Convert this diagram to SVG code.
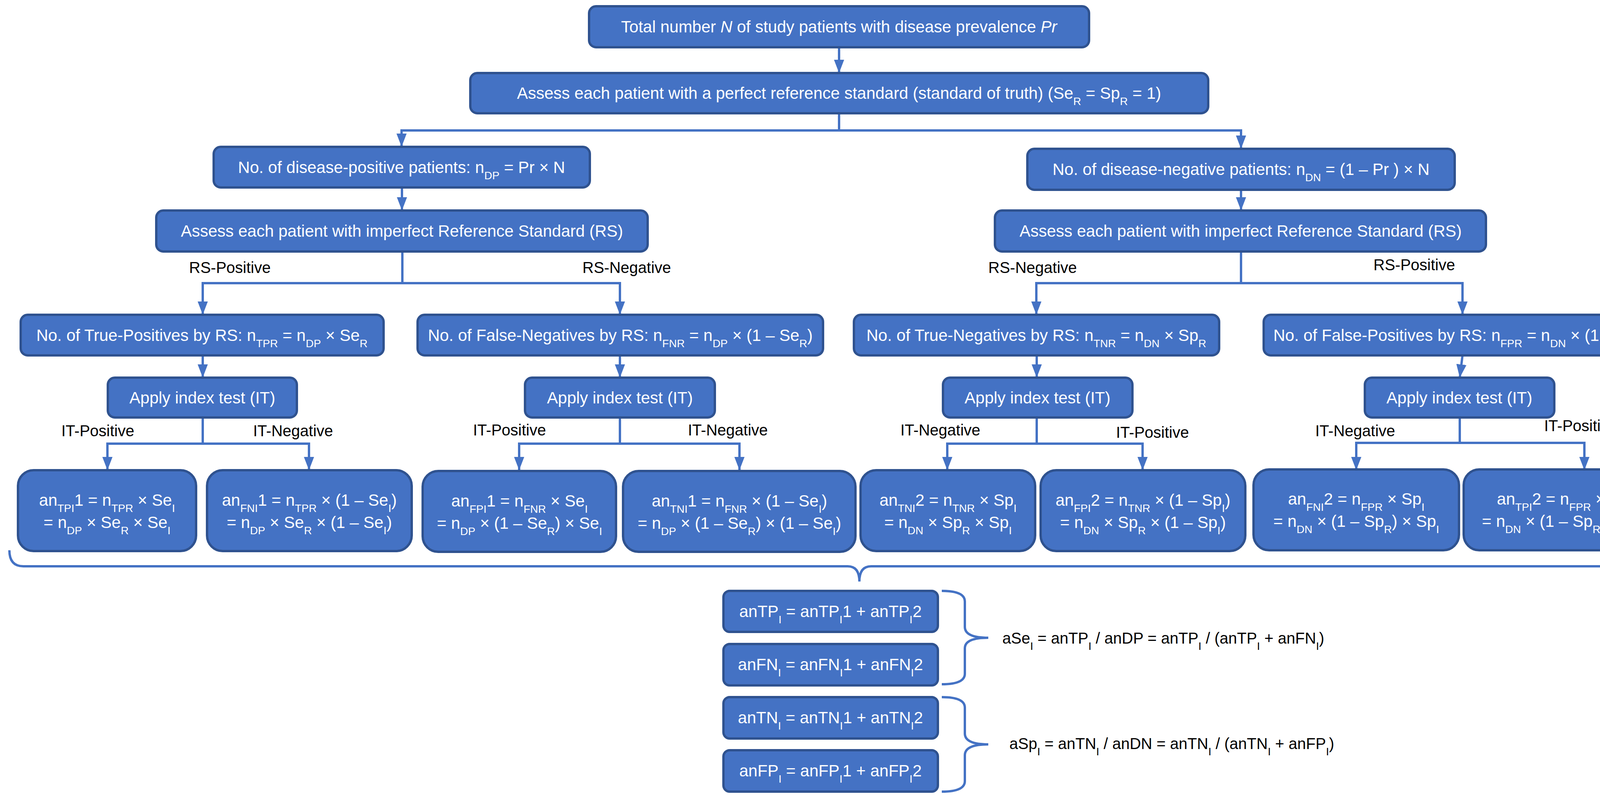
<svg xmlns="http://www.w3.org/2000/svg" width="4405" height="2051" viewBox="0 0 4405 2051">
<style>
.b{fill:#4472C4;stroke:#2F528F;stroke-width:6}
.t{font-family:"Liberation Sans",Arial,sans-serif;font-size:42px;fill:#fff;text-anchor:middle}
.k{font-family:"Liberation Sans",Arial,sans-serif;font-size:40px;fill:#000}
.c{fill:none;stroke:#4472C4;stroke-width:6}
.s{font-size:28px}
</style>
<defs>
<marker id="m" markerUnits="userSpaceOnUse" markerWidth="34" markerHeight="26" refX="34" refY="13" orient="auto" viewBox="0 0 34 26"><path d="M0 0L34 13L0 26Z" fill="#4472C4"/></marker>
</defs>
<g id="connectors">
<path class="c" marker-end="url(#m)" d="M2148 121V187"/>
<path class="c" marker-end="url(#m)" d="M2148 290V334H1028V376"/>
<path class="c" marker-end="url(#m)" d="M2148 334H3177V381"/>
<path class="c" marker-end="url(#m)" d="M1029 480V539"/>
<path class="c" marker-end="url(#m)" d="M3177 486V539"/>
<path class="c" marker-end="url(#m)" d="M1030 644V725H519V806"/>
<path class="c" marker-end="url(#m)" d="M1030 725H1587V806"/>
<path class="c" marker-end="url(#m)" d="M3177 644V725H2653V806"/>
<path class="c" marker-end="url(#m)" d="M3177 725H3744V806"/>
<path class="c" marker-end="url(#m)" d="M519 910V967"/>
<path class="c" marker-end="url(#m)" d="M1587 910V967"/>
<path class="c" marker-end="url(#m)" d="M2654 910V967"/>
<path class="c" marker-end="url(#m)" d="M3744 910L3737 967"/>
<path class="c" marker-end="url(#m)" d="M519 1069V1136H275V1204"/>
<path class="c" marker-end="url(#m)" d="M519 1136H791V1204"/>
<path class="c" marker-end="url(#m)" d="M1587 1069V1136H1329V1204"/>
<path class="c" marker-end="url(#m)" d="M1587 1136H1893V1204"/>
<path class="c" marker-end="url(#m)" d="M2654 1069V1136H2425V1204"/>
<path class="c" marker-end="url(#m)" d="M2654 1136H2925V1204"/>
<path class="c" marker-end="url(#m)" d="M3737 1069V1134H3472V1204"/>
<path class="c" marker-end="url(#m)" d="M3737 1134H4056V1204"/>
<path class="c" d="M24 1409Q24 1450 60 1450H2170Q2200 1450 2200 1489Q2200 1450 2230 1450H4345Q4379 1450 4379 1412"/>
<path class="c" d="M2411 1513Q2470 1513 2470 1540V1605Q2470 1633 2530 1633Q2470 1633 2470 1660V1725Q2470 1752 2411 1752"/>
<path class="c" d="M2411 1785Q2470 1785 2470 1812V1878Q2470 1906 2530 1906Q2470 1906 2470 1934V2000Q2470 2027 2411 2027"/>
</g>
<g id="n1"><rect class="b" x="1508" y="16" width="1280" height="105" rx="18"/><text class="t" x="2148" y="83">Total number <tspan font-style="italic">N</tspan> of study patients with disease prevalence <tspan font-style="italic">Pr</tspan></text></g>
<g id="n2"><rect class="b" x="1204" y="187" width="1889" height="103" rx="18"/><text class="t" x="2148" y="253">Assess each patient with a perfect reference standard (standard of truth) (Se<tspan class="s" baseline-shift="sub">R</tspan> = Sp<tspan class="s" baseline-shift="sub">R</tspan> = 1)</text></g>
<g id="n3"><rect class="b" x="547" y="376" width="963" height="104" rx="18"/><text class="t" x="1028" y="443">No. of disease-positive patients: n<tspan class="s" baseline-shift="sub">DP</tspan>  = Pr × N</text></g>
<g id="n4"><rect class="b" x="2630" y="381" width="1094" height="105" rx="18"/><text class="t" x="3177" y="448">No. of disease-negative patients: n<tspan class="s" baseline-shift="sub">DN</tspan>  = (1 – Pr )  × N</text></g>
<g id="n5"><rect class="b" x="400" y="539" width="1258" height="105" rx="18"/><text class="t" x="1029" y="606">Assess each patient with imperfect Reference Standard (RS)</text></g>
<g id="n6"><rect class="b" x="2547" y="539" width="1257" height="105" rx="18"/><text class="t" x="3176" y="606">Assess each patient with imperfect Reference Standard (RS)</text></g>
<g id="labels">
<text class="k" x="484" y="699">RS-Positive</text>
<text class="k" x="1491" y="699">RS-Negative</text>
<text class="k" x="2530" y="699">RS-Negative</text>
<text class="k" x="3516" y="692">RS-Positive</text>
<text class="k" x="157" y="1117">IT-Positive</text>
<text class="k" x="648" y="1117">IT-Negative</text>
<text class="k" x="1211" y="1115">IT-Positive</text>
<text class="k" x="1761" y="1115">IT-Negative</text>
<text class="k" x="2305" y="1115">IT-Negative</text>
<text class="k" x="2857" y="1121">IT-Positive</text>
<text class="k" x="3367" y="1117">IT-Negative</text>
<text class="k" x="3953" y="1104">IT-Positive</text>
</g>
<g id="n7"><rect class="b" x="53" y="806" width="929" height="104" rx="18"/><text class="t" x="517" y="873">No. of True-Positives by RS: n<tspan class="s" baseline-shift="sub">TPR</tspan> = n<tspan class="s" baseline-shift="sub">DP</tspan> × Se<tspan class="s" baseline-shift="sub">R</tspan></text></g>
<g id="n8"><rect class="b" x="1069" y="806" width="1038" height="104" rx="18"/><text class="t" x="1588" y="873">No. of False-Negatives by RS: n<tspan class="s" baseline-shift="sub">FNR</tspan> = n<tspan class="s" baseline-shift="sub">DP</tspan> × (1 – Se<tspan class="s" baseline-shift="sub">R</tspan>)</text></g>
<g id="n9"><rect class="b" x="2186" y="806" width="935" height="104" rx="18"/><text class="t" x="2653" y="873">No. of True-Negatives by RS: n<tspan class="s" baseline-shift="sub">TNR</tspan> = n<tspan class="s" baseline-shift="sub">DN</tspan> × Sp<tspan class="s" baseline-shift="sub">R</tspan></text></g>
<g id="n10"><rect class="b" x="3235" y="806" width="1016" height="104" rx="18"/><text class="t" x="3743" y="873">No. of False-Positives by RS: n<tspan class="s" baseline-shift="sub">FPR</tspan> = n<tspan class="s" baseline-shift="sub">DN</tspan> × (1 – Sp<tspan class="s" baseline-shift="sub">R</tspan>)</text></g>
<g id="n11"><rect class="b" x="276" y="967" width="484" height="102" rx="18"/><text class="t" x="518" y="1033">Apply index test (IT)</text></g>
<g id="n12"><rect class="b" x="1344" y="967" width="486" height="102" rx="18"/><text class="t" x="1587" y="1033">Apply index test (IT)</text></g>
<g id="n13"><rect class="b" x="2414" y="967" width="485" height="102" rx="18"/><text class="t" x="2656" y="1033">Apply index test (IT)</text></g>
<g id="n14"><rect class="b" x="3494" y="967" width="485" height="102" rx="18"/><text class="t" x="3736" y="1033">Apply index test (IT)</text></g>
<g id="l1"><rect class="b" x="46" y="1204" width="456" height="207" rx="40"/><text class="t" x="274" y="1295">an<tspan class="s" baseline-shift="sub">TPI</tspan>1 = n<tspan class="s" baseline-shift="sub">TPR</tspan> × Se<tspan class="s" baseline-shift="sub">I</tspan></text><text class="t" x="274" y="1352">= n<tspan class="s" baseline-shift="sub">DP</tspan> × Se<tspan class="s" baseline-shift="sub">R</tspan> × Se<tspan class="s" baseline-shift="sub">I</tspan></text></g>
<g id="l2"><rect class="b" x="530" y="1204" width="524" height="207" rx="40"/><text class="t" x="792" y="1295">an<tspan class="s" baseline-shift="sub">FNI</tspan>1 = n<tspan class="s" baseline-shift="sub">TPR</tspan> × (1 – Se<tspan class="s" baseline-shift="sub">I</tspan>)</text><text class="t" x="792" y="1352">= n<tspan class="s" baseline-shift="sub">DP</tspan> × Se<tspan class="s" baseline-shift="sub">R</tspan> × (1 – Se<tspan class="s" baseline-shift="sub">I</tspan>)</text></g>
<g id="l3"><rect class="b" x="1082" y="1206" width="495" height="207" rx="40"/><text class="t" x="1330" y="1297">an<tspan class="s" baseline-shift="sub">FPI</tspan>1 = n<tspan class="s" baseline-shift="sub">FNR</tspan> × Se<tspan class="s" baseline-shift="sub">I</tspan></text><text class="t" x="1330" y="1354">= n<tspan class="s" baseline-shift="sub">DP</tspan> × (1 – Se<tspan class="s" baseline-shift="sub">R</tspan>) × Se<tspan class="s" baseline-shift="sub">I</tspan></text></g>
<g id="l4"><rect class="b" x="1595" y="1206" width="595" height="207" rx="40"/><text class="t" x="1893" y="1297">an<tspan class="s" baseline-shift="sub">TNI</tspan>1 = n<tspan class="s" baseline-shift="sub">FNR</tspan> × (1 – Se<tspan class="s" baseline-shift="sub">I</tspan>)</text><text class="t" x="1893" y="1354">= n<tspan class="s" baseline-shift="sub">DP</tspan> × (1 – Se<tspan class="s" baseline-shift="sub">R</tspan>) × (1 – Se<tspan class="s" baseline-shift="sub">I</tspan>)</text></g>
<g id="l5"><rect class="b" x="2203" y="1204" width="447" height="207" rx="40"/><text class="t" x="2427" y="1295">an<tspan class="s" baseline-shift="sub">TNI</tspan>2 = n<tspan class="s" baseline-shift="sub">TNR</tspan> × Sp<tspan class="s" baseline-shift="sub">I</tspan></text><text class="t" x="2427" y="1352">=  n<tspan class="s" baseline-shift="sub">DN</tspan> × Sp<tspan class="s" baseline-shift="sub">R</tspan> × Sp<tspan class="s" baseline-shift="sub">I</tspan></text></g>
<g id="l6"><rect class="b" x="2664" y="1204" width="524" height="207" rx="40"/><text class="t" x="2926" y="1295">an<tspan class="s" baseline-shift="sub">FPI</tspan>2 = n<tspan class="s" baseline-shift="sub">TNR</tspan> × (1 – Sp<tspan class="s" baseline-shift="sub">I</tspan>)</text><text class="t" x="2926" y="1352">= n<tspan class="s" baseline-shift="sub">DN</tspan> × Sp<tspan class="s" baseline-shift="sub">R</tspan> × (1 – Sp<tspan class="s" baseline-shift="sub">I</tspan>)</text></g>
<g id="l7"><rect class="b" x="3209" y="1202" width="526" height="207" rx="40"/><text class="t" x="3472" y="1292">an<tspan class="s" baseline-shift="sub">FNI</tspan>2 = n<tspan class="s" baseline-shift="sub">FPR</tspan> × Sp<tspan class="s" baseline-shift="sub">I</tspan></text><text class="t" x="3472" y="1349">= n<tspan class="s" baseline-shift="sub">DN</tspan> × (1 – Sp<tspan class="s" baseline-shift="sub">R</tspan>) × Sp<tspan class="s" baseline-shift="sub">I</tspan></text></g>
<g id="l8"><rect class="b" x="3747" y="1202" width="615" height="207" rx="40"/><text class="t" x="4055" y="1292">an<tspan class="s" baseline-shift="sub">TPI</tspan>2 = n<tspan class="s" baseline-shift="sub">FPR</tspan> × (1 – Sp<tspan class="s" baseline-shift="sub">I</tspan>)</text><text class="t" x="4055" y="1349">= n<tspan class="s" baseline-shift="sub">DN</tspan> × (1 – Sp<tspan class="s" baseline-shift="sub">R</tspan>) × (1 – Sp<tspan class="s" baseline-shift="sub">I</tspan>)</text></g>
<g id="s1"><rect class="b" x="1852" y="1513" width="549" height="105" rx="16"/><text class="t" x="2126" y="1580">anTP<tspan class="s" baseline-shift="sub">I</tspan> = anTP<tspan class="s" baseline-shift="sub">I</tspan>1 + anTP<tspan class="s" baseline-shift="sub">I</tspan>2</text></g>
<g id="s2"><rect class="b" x="1852" y="1649" width="549" height="106" rx="16"/><text class="t" x="2126" y="1716">anFN<tspan class="s" baseline-shift="sub">I</tspan> = anFN<tspan class="s" baseline-shift="sub">I</tspan>1 + anFN<tspan class="s" baseline-shift="sub">I</tspan>2</text></g>
<g id="s3"><rect class="b" x="1852" y="1785" width="549" height="106" rx="16"/><text class="t" x="2126" y="1852">anTN<tspan class="s" baseline-shift="sub">I</tspan> = anTN<tspan class="s" baseline-shift="sub">I</tspan>1 + anTN<tspan class="s" baseline-shift="sub">I</tspan>2</text></g>
<g id="s4"><rect class="b" x="1852" y="1921" width="549" height="106" rx="16"/><text class="t" x="2126" y="1988">anFP<tspan class="s" baseline-shift="sub">I</tspan> = anFP<tspan class="s" baseline-shift="sub">I</tspan>1 + anFP<tspan class="s" baseline-shift="sub">I</tspan>2</text></g>
<g id="f1"><text class="k" x="2566" y="1648">aSe<tspan class="s" baseline-shift="sub">I</tspan> = anTP<tspan class="s" baseline-shift="sub">I</tspan> / anDP = anTP<tspan class="s" baseline-shift="sub">I</tspan> / (anTP<tspan class="s" baseline-shift="sub">I</tspan> + anFN<tspan class="s" baseline-shift="sub">I</tspan>)</text></g>
<g id="f2"><text class="k" x="2584" y="1918">aSp<tspan class="s" baseline-shift="sub">I</tspan> = anTN<tspan class="s" baseline-shift="sub">I</tspan> / anDN = anTN<tspan class="s" baseline-shift="sub">I</tspan> / (anTN<tspan class="s" baseline-shift="sub">I</tspan> + anFP<tspan class="s" baseline-shift="sub">I</tspan>)</text></g>
</svg>
